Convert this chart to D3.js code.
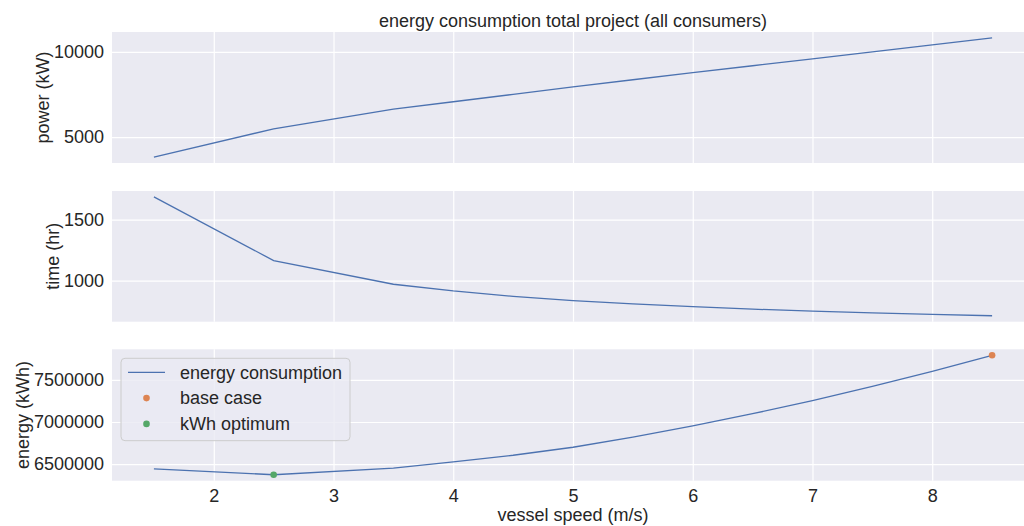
<!DOCTYPE html>
<html>
<head>
<meta charset="utf-8">
<script src="https://cdn.jsdelivr.net/npm/d3@7"></script>
<style>
  body { margin: 0; background: #fff; }
  text { font-family: Arial, "Liberation Sans", sans-serif; fill: #262626; }
</style>
</head>
<body>
<div class="chart"></div>
<script>
// data
const speed = [1.5, 2.5, 3.5, 4, 4.5, 5, 5.5, 6, 6.5, 7, 7.5, 8, 8.5];
const power = [3837, 5488, 6650, 7076, 7510, 7948, 8365, 8779, 9186, 9593, 10000, 10407, 10814];
const time = [1685, 1164, 970, 915, 871, 836, 810, 786, 766, 750, 736, 723, 712];
const energy = [6444000, 6374000, 6453000, 6527000, 6605000, 6700000, 6820000, 6953000, 7098000, 7255000, 7423000, 7602000, 7792000];
const baseCase = [{speed: 8.5, energy: 7792000}];
const optimum = [{speed: 2.5, energy: 6374000}];

const xTicks = [2, 3, 4, 5, 6, 7, 8];
const powerTicks = [5000, 10000];
const timeTicks = [1000, 1500];
const energyTicks = [6500000, 7000000, 7500000];

const blue = "#4c72b0", orange = "#dd8452", green = "#55a868";
const fontSize = 18;

const width = 1024, height = 526;
const left = 112, right = 1034;

const svg = d3.select(".chart").append("svg")
    .attr("width", width)
    .attr("height", height)
    .style("display", "block");

// matplotlib style 5% padding
function padded(vals) {
  const ext = d3.extent(vals);
  const pad = (ext[1] - ext[0]) * 0.05;
  return [ext[0] - pad, ext[1] + pad];
}

const xScale = d3.scaleLinear()
    .domain(padded(speed))
    .range([left, right]);

const panels = [
  {top: 32, bottom: 163, values: power, ticks: powerTicks, label: "power (kW)"},
  {top: 191, bottom: 321.7, values: time, ticks: timeTicks, label: "time (hr)"},
  {top: 349.3, bottom: 480.7, values: energy, ticks: energyTicks, label: "energy (kWh)"}
];

panels.forEach((p, i) => {
  const yScale = d3.scaleLinear()
      .domain(padded(p.values))
      .range([p.bottom, p.top]);
  p.yScale = yScale;

  const g = svg.append("g");

  g.append("rect")
      .attr("x", left)
      .attr("y", p.top)
      .attr("width", right - left)
      .attr("height", p.bottom - p.top)
      .attr("fill", "#eaeaf2");

  // grid
  const yAxis = d3.axisLeft(yScale)
      .tickValues(p.ticks)
      .tickSize(-(right - left))
      .tickPadding(8)
      .tickFormat(d3.format("d"));
  const yg = g.append("g")
      .attr("class", "axis y-axis")
      .attr("transform", `translate(${left},0)`)
      .call(yAxis);
  yg.select(".domain").remove();
  yg.selectAll("line").attr("stroke", "#fff").attr("stroke-width", 1.2);
  yg.selectAll("text").style("font-size", fontSize + "px").attr("fill", "#262626");

  const xAxis = d3.axisBottom(xScale)
      .tickValues(xTicks)
      .tickSize(-(p.bottom - p.top))
      .tickPadding(9)
      .tickFormat(d3.format("d"));
  const xg = g.append("g")
      .attr("class", "axis x-axis")
      .attr("transform", `translate(0,${p.bottom})`)
      .call(xAxis);
  xg.select(".domain").remove();
  xg.selectAll("line").attr("stroke", "#fff").attr("stroke-width", 1.2);
  xg.selectAll("text").style("font-size", fontSize + "px").attr("fill", "#262626");
  if (i < 2) xg.selectAll("text").remove();

  const line = d3.line()
      .x((d, j) => xScale(speed[j]))
      .y(d => yScale(d));
  g.append("path")
      .datum(p.values)
      .attr("d", line)
      .attr("fill", "none")
      .attr("stroke", blue)
      .attr("stroke-width", 1.3);

  // y label placed left of the tick labels
  const bb = yg.node().getBBox();
  const lx = left + bb.x - 5;
  g.append("text")
      .attr("transform", `translate(${lx},${(p.top + p.bottom) / 2}) rotate(-90)`)
      .attr("text-anchor", "middle")
      .style("font-size", fontSize + "px")
      .text(p.label);
});

const eScale = panels[2].yScale;

svg.selectAll(".base")
    .data(baseCase)
    .enter()
    .append("circle")
    .attr("cx", d => xScale(d.speed))
    .attr("cy", d => eScale(d.energy))
    .attr("r", 3.3)
    .attr("fill", orange);

svg.selectAll(".opt")
    .data(optimum)
    .enter()
    .append("circle")
    .attr("cx", d => xScale(d.speed))
    .attr("cy", d => eScale(d.energy))
    .attr("r", 3.3)
    .attr("fill", green);

// title and x label
svg.append("text")
    .attr("x", (left + right) / 2)
    .attr("y", 26.5)
    .attr("text-anchor", "middle")
    .style("font-size", fontSize + "px")
    .text("energy consumption total project (all consumers)");

svg.append("text")
    .attr("x", (left + right) / 2)
    .attr("y", 521)
    .attr("text-anchor", "middle")
    .style("font-size", fontSize + "px")
    .text("vessel speed (m/s)");

// legend
const legend = svg.append("g").attr("transform", "translate(121,358.3)");
legend.append("rect")
    .attr("width", 229)
    .attr("height", 82.4)
    .attr("rx", 4)
    .attr("fill", "#eaeaf2")
    .attr("fill-opacity", 0.8)
    .attr("stroke", "#cccccc")
    .attr("stroke-width", 1);

const items = [
  {name: "energy consumption", type: "line", color: blue},
  {name: "base case", type: "dot", color: orange},
  {name: "kWh optimum", type: "dot", color: green}
];
const rows = legend.selectAll(".item")
    .data(items)
    .enter()
    .append("g")
    .attr("transform", (d, i) => `translate(0,${14 + i * 25.8})`);
rows.filter(d => d.type == "line").append("line")
    .attr("x1", 7).attr("x2", 44)
    .attr("stroke", d => d.color)
    .attr("stroke-width", 1.3);
rows.filter(d => d.type == "dot").append("circle")
    .attr("cx", 25.5)
    .attr("r", 3.3)
    .attr("fill", d => d.color);
rows.append("text")
    .attr("x", 59)
    .attr("dy", "0.35em")
    .style("font-size", fontSize + "px")
    .text(d => d.name);
</script>
</body>
</html>
